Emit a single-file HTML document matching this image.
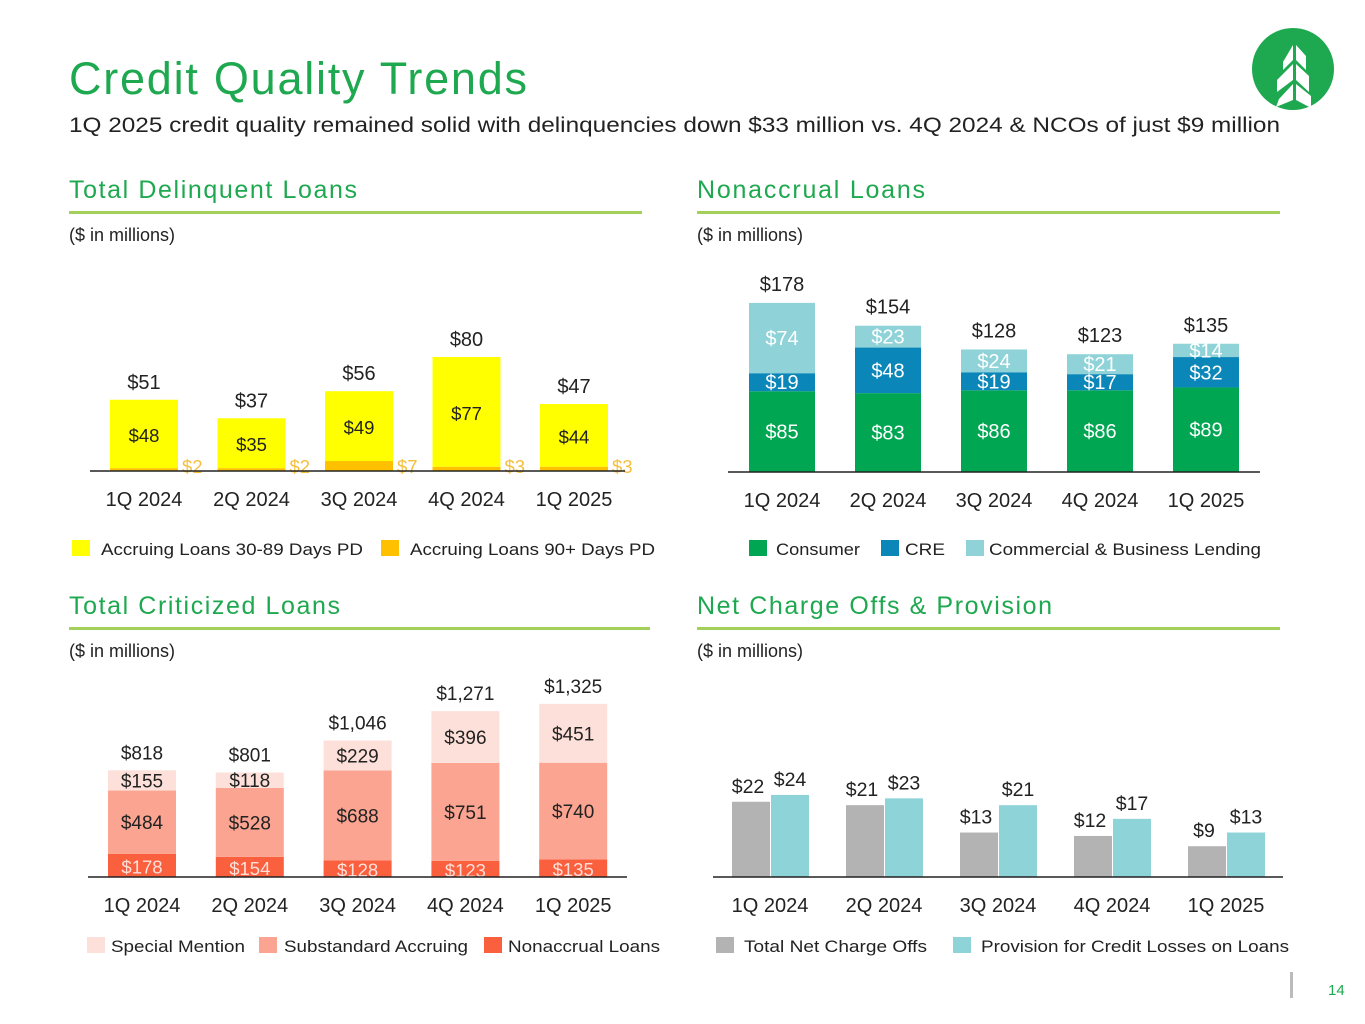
<!DOCTYPE html>
<html><head><meta charset="utf-8"><style>
body{margin:0;background:#fff;}
svg{display:block;font-family:"Liberation Sans",sans-serif;}
</style></head><body>
<svg id="s" width="1365" height="1024" xmlns="http://www.w3.org/2000/svg">
<text x="69" y="94" font-size="45" fill="#1ea84f" textLength="458" lengthAdjust="spacing">Credit Quality Trends</text>
<text x="69" y="132" font-size="21" fill="#222" textLength="1211" lengthAdjust="spacingAndGlyphs">1Q 2025 credit quality remained solid with delinquencies down $33 million vs. 4Q 2024 &amp; NCOs of just $9 million</text>
<g>
<circle cx="1293" cy="69" r="41" fill="#1ea84f"/>
<polygon points="1293,45 1293,60 1283,70 1283,62" fill="#fff"/>
<polygon points="1296,45 1306,56 1306,70 1296,60" fill="#fff"/>
<polygon points="1293,64 1293,80 1277,92 1277,80" fill="#fff"/>
<polygon points="1296,64 1309,76 1309,92 1296,80" fill="#fff"/>
<polygon points="1293,84 1293,100 1276,107 1279,99" fill="#fff"/>
<polygon points="1296,84 1311,96 1311,108 1296,100" fill="#fff"/>
</g>
<text x="1328" y="995" font-size="15" fill="#1ea84f">14</text>
<rect x="1290" y="972" width="3" height="26" fill="#bbb"/>
</svg>
<script>
const quarters=['1Q 2024','2Q 2024','3Q 2024','4Q 2024','1Q 2025'];
const delinq30=[48,35,49,77,44];
const delinq90=[2,2,7,3,3];
const delinqTotal=['$51','$37','$56','$80','$47'];
const naConsumer=[85,83,86,86,89];
const naCRE=[19,48,19,17,32];
const naCBL=[74,23,24,21,14];
const naTotal=['$178','$154','$128','$123','$135'];
const crNonaccrual=[178,154,128,123,135];
const crSubstandard=[484,528,688,751,740];
const crSpecial=[155,118,229,396,451];
const crTotal=['$818','$801','$1,046','$1,271','$1,325'];
const ncoValues=[22,21,13,12,9];
const provValues=[24,23,21,17,13];

const S=document.getElementById('s');
const NS='http://www.w3.org/2000/svg';
function mk(tag,a,txt){const e=document.createElementNS(NS,tag);for(const k in a)e.setAttribute(k,a[k]);if(txt!==undefined)e.textContent=txt;S.appendChild(e);return e;}
function txt(x,y,s,size,fill,name,anchor,len){const e=mk('text',{x:x,y:y,'font-size':size,fill:fill,'text-anchor':anchor||'middle'},s);
if(len){e.setAttribute('textLength',len);e.setAttribute('lengthAdjust','spacingAndGlyphs');}

return e;}
function rect(x,y,w,h,fill,name){const e=mk('rect',{x:x,y:y,width:w,height:h,fill:fill});

return e;}
function header(x,y,w,title,len){const t=txt(x,y,title,25,'#1ea84f','section-title','start');t.setAttribute('textLength',len);t.setAttribute('lengthAdjust','spacing');rect(x,y+13,w,3,'#a3d05a','section-rule');txt(x,y+43,'($ in millions)',18,'#222','units-note','start');}
function axis(x1,x2,y,centers){const l=mk('line',{x1:x1,x2:x2,y1:y,y2:y,stroke:'#222','stroke-width':1.5});


centers.forEach((c,i)=>txt(c,y+35,quarters[i],20,'#222','x-tick-label'));}
function legend(items,y){items.forEach(it=>{rect(it[0],y-15,18,16,it[2],'legend-swatch');txt(it[3],y,it[1],17,'#222','legend-entry','start',it[4]);});}

// Chart 1: delinquent
header(69,198,573,'Total Delinquent Loans',288);
{const base=471,k=1.425,x0=110,step=107.5,w=68,c=[];
quarters.forEach((q,i)=>{const x=x0+i*step;c.push(x+w/2);
 const h90=delinq90[i]*k,h30=delinq30[i]*k;
 rect(x,base-h90,w,h90,'#ffc000','bar-90plus');
 rect(x,base-h90-h30,w,h30,'#ffff00','bar-30-89');
 txt(x+w/2,base-h90-h30/2+8,'$'+delinq30[i],18.5,'#222','value-30-89');
 txt(x+w+4,base+2,'$'+delinq90[i],18.5,'#f5bf3c','value-90plus','start');
 txt(x+w/2,base-h90-h30-11,delinqTotal[i],20,'#222','total-label');});
axis(90,625,471,c);
legend([[72,'Accruing Loans 30-89 Days PD','#ffff00',101,262],[381,'Accruing Loans 90+ Days PD','#ffc000',410,245]],555);}

// Chart 2: nonaccrual
header(697,198,583,'Nonaccrual Loans',228);
{const base=472,k=0.95,x0=749,step=106,w=66,c=[];
quarters.forEach((q,i)=>{const x=x0+i*step;c.push(x+w/2);
 const h1=naConsumer[i]*k,h2=naCRE[i]*k,h3=naCBL[i]*k;
 rect(x,base-h1,w,h1,'#00a651','bar-consumer');
 rect(x,base-h1-h2,w,h2,'#0b86b8','bar-cre');
 rect(x,base-h1-h2-h3,w,h3,'#8fd3d8','bar-cbl');
 txt(x+w/2,base-h1/2+7,'$'+naConsumer[i],20,'#fff','value-consumer');
 txt(x+w/2,base-h1-h2/2+7,'$'+naCRE[i],20,'#fff','value-cre');
 txt(x+w/2,base-h1-h2-h3/2+7,'$'+naCBL[i],20,'#fff','value-cbl');
 txt(x+w/2,base-h1-h2-h3-12,naTotal[i],20,'#222','total-label');});
axis(728,1260,472,c);
legend([[749,'Consumer','#00a651',776,84],[881,'CRE','#0b86b8',905,40],[966,'Commercial & Business Lending','#8fd3d8',989,272]],555);}

// Chart 3: criticized
header(69,614,581,'Total Criticized Loans',271);
{const base=877,k=0.1306,x0=108,step=107.8,w=68,c=[];
quarters.forEach((q,i)=>{const x=x0+i*step;c.push(x+w/2);
 const h1=crNonaccrual[i]*k,h2=crSubstandard[i]*k,h3=crSpecial[i]*k;
 rect(x,base-h1,w,h1,'#fa5f3e','bar-nonaccrual');
 rect(x,base-h1-h2,w,h2,'#fba491','bar-substandard');
 rect(x,base-h1-h2-h3,w,h3,'#fde0da','bar-special-mention');
 txt(x+w/2,base-h1/2+8,'$'+crNonaccrual[i],18.5,'#fde0da','value-nonaccrual');
 txt(x+w/2,base-h1-h2/2+7,'$'+crSubstandard[i],19,'#222','value-substandard');
 txt(x+w/2,base-h1-h2-h3/2+7,'$'+crSpecial[i],19,'#222','value-special-mention');
 txt(x+w/2,base-h1-h2-h3-11,crTotal[i],19,'#222','total-label');});
axis(88,627,877,c);
legend([[87,'Special Mention','#fde0da',111,134],[259,'Substandard Accruing','#fba491',284,184],[484,'Nonaccrual Loans','#fa5f3e',508,152]],952);}

// Chart 4: NCO & provision
header(697,614,583,'Net Charge Offs & Provision',355);
{const base=877,k=3.42,x0=732,step=114,w=38,c=[];
quarters.forEach((q,i)=>{const x=x0+i*step;c.push(x+w);
 const h1=ncoValues[i]*k,h2=provValues[i]*k;
 rect(x,base-h1,w,h1,'#b3b3b3','bar-nco');
 rect(x+w+1,base-h2,w,h2,'#8dd3d8','bar-provision');
 txt(x+w/2-3,base-h1-9,'$'+ncoValues[i],19.5,'#222','value-nco');
 txt(x+w+1+w/2,base-h2-9,'$'+provValues[i],19.5,'#222','value-provision');});
axis(713,1283,877,c);
legend([[716,'Total Net Charge Offs','#b3b3b3',744,183],[953,'Provision for Credit Losses on Loans','#8dd3d8',981,308]],952);}
</script>
</body></html>
